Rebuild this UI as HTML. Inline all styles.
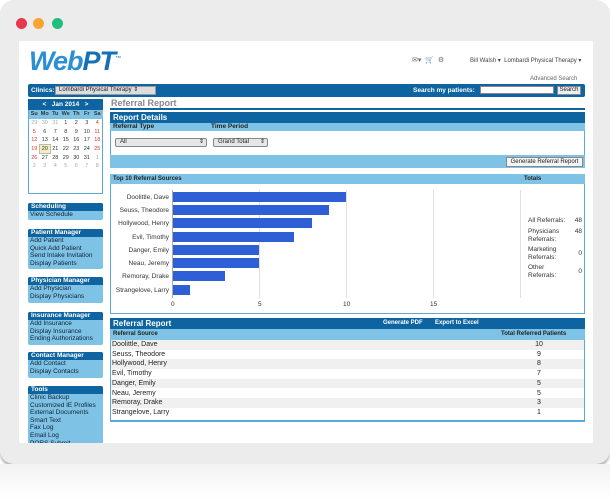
<!DOCTYPE html>
<html><head><style>
*{margin:0;padding:0;box-sizing:border-box}
body{width:610px;height:500px;background:#fff;font-family:"Liberation Sans",sans-serif;position:relative;overflow:hidden;font-size:7px;color:#222}
.a{position:absolute}
.dk{background:#0d64a0;color:#fff;font-weight:bold}
.lt{background:#7ec3e6}
.side{position:absolute;left:28px;width:75px;background:#7ec3e6;border-radius:2px;font-size:6.5px;color:#123}
.side .h{background:#0d64a0;color:#fff;font-weight:bold;padding:0 3px;height:8px;line-height:8px;border-radius:2px 2px 0 0}
.side div.i{padding-left:2px;line-height:7.6px}
.bar{position:absolute;left:173px;height:10px;background:#2f5fd6}
.lab{position:absolute;right:441px;font-size:6.5px;color:#333;text-align:right;white-space:nowrap}
.row{position:absolute;left:111px;width:473px;height:9.7px;font-size:7px;line-height:9.7px;padding-left:1px}
.row span{position:absolute;left:413px;width:30px;text-align:center}
.cal td{font-size:5.5px;text-align:center;color:#333;height:8.7px;width:10.5px}
</style></head><body>
<div class="a" style="left:0;top:0;width:610px;height:464px;background:#ececec;border-radius:14px;box-shadow:0 3px 2px #bbb"></div>
<div class="a" style="left:0;top:464px;width:610px;height:36px;background:linear-gradient(#f2f2f2,#fff)"></div>
<div class="a" style="left:16px;top:18px;width:11px;height:11px;border-radius:50%;background:#e8384f"></div>
<div class="a" style="left:33px;top:18px;width:11px;height:11px;border-radius:50%;background:#f6a530"></div>
<div class="a" style="left:52px;top:18px;width:11px;height:11px;border-radius:50%;background:#1fbf7a"></div>
<div class="a" style="left:19px;top:41px;width:574px;height:402px;background:#fff"></div>
<div class="a" style="left:29px;top:46px;font-size:27px;font-weight:bold;font-style:italic;color:#2a8fd6;letter-spacing:-1px">Web<span style="color:#1670b5">PT</span><sup style="font-size:6px">™</sup></div>
<div class="a" style="left:412px;top:56px;font-size:7px;color:#666">✉▾ &nbsp;🛒 &nbsp;⚙</div>
<div class="a" style="left:470px;top:57px;font-size:6px;color:#444">Bill Walsh ▾ &nbsp;Lombardi Physical Therapy ▾</div>
<div class="a" style="left:530px;top:76px;font-size:6px;color:#666">Advanced Search</div>
<div class="a dk" style="left:28px;top:84px;width:557px;height:13px;border-radius:2px;font-size:6.5px;line-height:13px;padding-left:3px">Clinics:
<span class="a" style="left:27px;top:2px;width:101px;height:9px;background:#ddd;border:1px solid #999;color:#222;font-weight:normal;line-height:7px;padding-left:3px;font-size:6px">Lombardi Physical Therapy ⇕</span>
<span class="a" style="left:385px;top:0">Search my patients:</span>
<span class="a" style="left:452px;top:2px;width:74px;height:8px;background:#fff;border:1px solid #888"></span>
<span class="a" style="left:529px;top:2px;width:24px;height:9px;background:#eee;border:1px solid #888;color:#222;font-weight:normal;line-height:7px;text-align:center;font-size:6px">Search</span></div>
<div class="a" style="left:28px;top:99px;width:75px;height:95px;border:1px solid #5aa9da;background:#fff"></div>
<div class="a dk" style="left:28px;top:99px;width:75px;height:11px;font-size:6.5px;line-height:11px;text-align:center">&lt; &nbsp; Jan 2014 &nbsp; &gt;</div>
<table class="a cal" style="left:29px;top:110px;border-collapse:collapse">
<tr style="background:#7ec3e6"><td><b>Su</b></td><td><b>Mo</b></td><td><b>Tu</b></td><td><b>We</b></td><td><b>Th</b></td><td><b>Fr</b></td><td><b>Sa</b></td></tr>
<tr><td style="color:#aaa">29</td><td style="color:#aaa">30</td><td style="color:#aaa">31</td><td>1</td><td>2</td><td>3</td><td style="color:#d33">4</td></tr>
<tr><td style="color:#d33">5</td><td>6</td><td>7</td><td>8</td><td>9</td><td>10</td><td style="color:#d33">11</td></tr>
<tr><td style="color:#d33">12</td><td>13</td><td>14</td><td>15</td><td>16</td><td>17</td><td style="color:#d33">18</td></tr>
<tr><td style="color:#d33">19</td><td style="background:#f5ecc0;outline:1px solid #bba">20</td><td>21</td><td>22</td><td>23</td><td>24</td><td style="color:#d33">25</td></tr>
<tr><td style="color:#d33">26</td><td>27</td><td>28</td><td>29</td><td>30</td><td>31</td><td style="color:#aaa">1</td></tr>
<tr><td style="color:#aaa">2</td><td style="color:#aaa">3</td><td style="color:#aaa">4</td><td style="color:#aaa">5</td><td style="color:#aaa">6</td><td style="color:#aaa">7</td><td style="color:#aaa">8</td></tr>
</table>
<div class="side" style="top:203px;height:17px"><div class="h">Scheduling</div><div class="i">View Schedule</div></div>
<div class="side" style="top:229px;height:40px"><div class="h">Patient Manager</div><div class="i">Add Patient<br>Quick Add Patient<br>Send Intake Invitation<br>Display Patients</div></div>
<div class="side" style="top:277px;height:26px"><div class="h">Physician Manager</div><div class="i">Add Physician<br>Display Physicians</div></div>
<div class="side" style="top:312px;height:33px"><div class="h">Insurance Manager</div><div class="i">Add Insurance<br>Display Insurance<br>Ending Authorizations</div></div>
<div class="side" style="top:352px;height:26px"><div class="h">Contact Manager</div><div class="i">Add Contact<br>Display Contacts</div></div>
<div class="side" style="top:386px;height:57px;overflow:hidden;border-radius:2px 2px 0 0"><div class="h">Tools</div><div class="i">Clinic Backup<br>Customized IE Profiles<br>External Documents<br>Smart Text<br>Fax Log<br>Email Log<br>PQRS Submit</div></div>
<div class="a" style="left:111px;top:98px;font-size:9px;font-weight:bold;color:#888">Referral Report</div>
<div class="a" style="left:110px;top:108px;width:475px;height:2px;background:#0d64a0"></div>
<div class="a" style="left:110px;top:112px;width:475px;height:56px;border:1px solid #5aa9da"></div>
<div class="a dk" style="left:110px;top:112px;width:475px;height:11px;font-size:8px;line-height:11px;padding-left:3px">Report Details</div>
<div class="a lt" style="left:110px;top:123px;width:475px;height:8px;font-size:6.5px;font-weight:bold;line-height:8px;padding-left:3px">Referral Type<span class="a" style="left:101px">Time Period</span></div>
<div class="a" style="left:115px;top:138px;width:92px;height:9px;border:1px solid #888;background:#e6e6e6;border-radius:2px;font-size:6px;line-height:7px;padding-left:4px">All<span style="float:right;padding-right:2px">⇕</span></div>
<div class="a" style="left:213px;top:138px;width:55px;height:9px;border:1px solid #888;background:#e6e6e6;border-radius:2px;font-size:6px;line-height:7px;padding-left:4px">Grand Total<span style="float:right;padding-right:2px">⇕</span></div>
<div class="a lt" style="left:110px;top:155px;width:475px;height:13px"></div>
<div class="a" style="left:506px;top:157px;width:77px;height:10px;background:#f4f4f4;border:1px solid #888;font-size:6px;line-height:8px;text-align:center">Generate Referral Report</div>
<div class="a" style="left:110px;top:174px;width:475px;height:140px;border:1px solid #5aa9da;background:#fff"></div>
<div class="a lt" style="left:110px;top:174px;width:475px;height:10px;font-size:6px;font-weight:bold;line-height:10px;padding-left:3px">Top 10 Referral Sources<span class="a" style="left:414px">Totals</span></div>
<div class="a" style="left:172px;top:190px;width:1px;height:108px;background:#aaa"></div>
<div class="a" style="left:259px;top:190px;width:1px;height:108px;background:#e0e0e0"></div>
<div class="a" style="left:346px;top:190px;width:1px;height:108px;background:#e0e0e0"></div>
<div class="a" style="left:433px;top:190px;width:1px;height:108px;background:#e0e0e0"></div>
<div class="a" style="left:520px;top:190px;width:1px;height:108px;background:#e0e0e0"></div>
<div class="bar" style="top:192px;width:173px"></div><div class="lab" style="top:194px">Doolittle, Dave</div>
<div class="bar" style="top:205px;width:156px"></div><div class="lab" style="top:207px">Seuss, Theodore</div>
<div class="bar" style="top:218px;width:139px"></div><div class="lab" style="top:220px">Hollywood, Henry</div>
<div class="bar" style="top:232px;width:121px"></div><div class="lab" style="top:234px">Evil, Timothy</div>
<div class="bar" style="top:245px;width:86px"></div><div class="lab" style="top:247px">Danger, Emily</div>
<div class="bar" style="top:258px;width:86px"></div><div class="lab" style="top:260px">Neau, Jeremy</div>
<div class="bar" style="top:271px;width:52px"></div><div class="lab" style="top:273px">Remoray, Drake</div>
<div class="bar" style="top:285px;width:17px"></div><div class="lab" style="top:287px">Strangelove, Larry</div>
<div class="a" style="top:301px;left:171px;font-size:6.5px;color:#333">0</div>
<div class="a" style="top:301px;left:258px;font-size:6.5px;color:#333">5</div>
<div class="a" style="top:301px;left:343px;font-size:6.5px;color:#333">10</div>
<div class="a" style="top:301px;left:430px;font-size:6.5px;color:#333">15</div>
<div class="a" style="top:217px;left:528px;font-size:6.5px;line-height:7.5px;color:#333;width:54px">
<div style="height:11px">All Referrals:<span style="float:right">48</span></div>
<div style="height:18px">Physicians<span style="float:right">48</span><br>Referrals:</div>
<div style="height:18px">Marketing<span style="float:right;margin-top:4px">0</span><br>Referrals:</div>
<div>Other<span style="float:right;margin-top:4px">0</span><br>Referrals:</div></div>
<div class="a" style="left:110px;top:318px;width:475px;height:104px;border:1px solid #5aa9da;border-bottom:2px solid #5aa9da;background:#fff"></div>
<div class="a dk" style="left:110px;top:318px;width:475px;height:11px;font-size:8px;line-height:11px;padding-left:3px">Referral Report<span class="a" style="left:273px;font-size:6px">Generate PDF</span><span class="a" style="left:325px;font-size:6px">Export to Excel</span></div>
<div class="a lt" style="left:110px;top:329px;width:475px;height:11px;font-size:6px;font-weight:bold;line-height:11px;padding-left:3px">Referral Source<span class="a" style="left:391px">Total Referred Patients</span></div>
<div class="row" style="top:340px;background:#f0f0f0">Doolittle, Dave<span>10</span></div>
<div class="row" style="top:349.7px">Seuss, Theodore<span>9</span></div>
<div class="row" style="top:359.4px;background:#f0f0f0">Hollywood, Henry<span>8</span></div>
<div class="row" style="top:369.1px">Evil, Timothy<span>7</span></div>
<div class="row" style="top:378.8px;background:#f0f0f0">Danger, Emily<span>5</span></div>
<div class="row" style="top:388.5px">Neau, Jeremy<span>5</span></div>
<div class="row" style="top:398.2px;background:#f0f0f0">Remoray, Drake<span>3</span></div>
<div class="row" style="top:407.9px">Strangelove, Larry<span>1</span></div>
</body></html>
